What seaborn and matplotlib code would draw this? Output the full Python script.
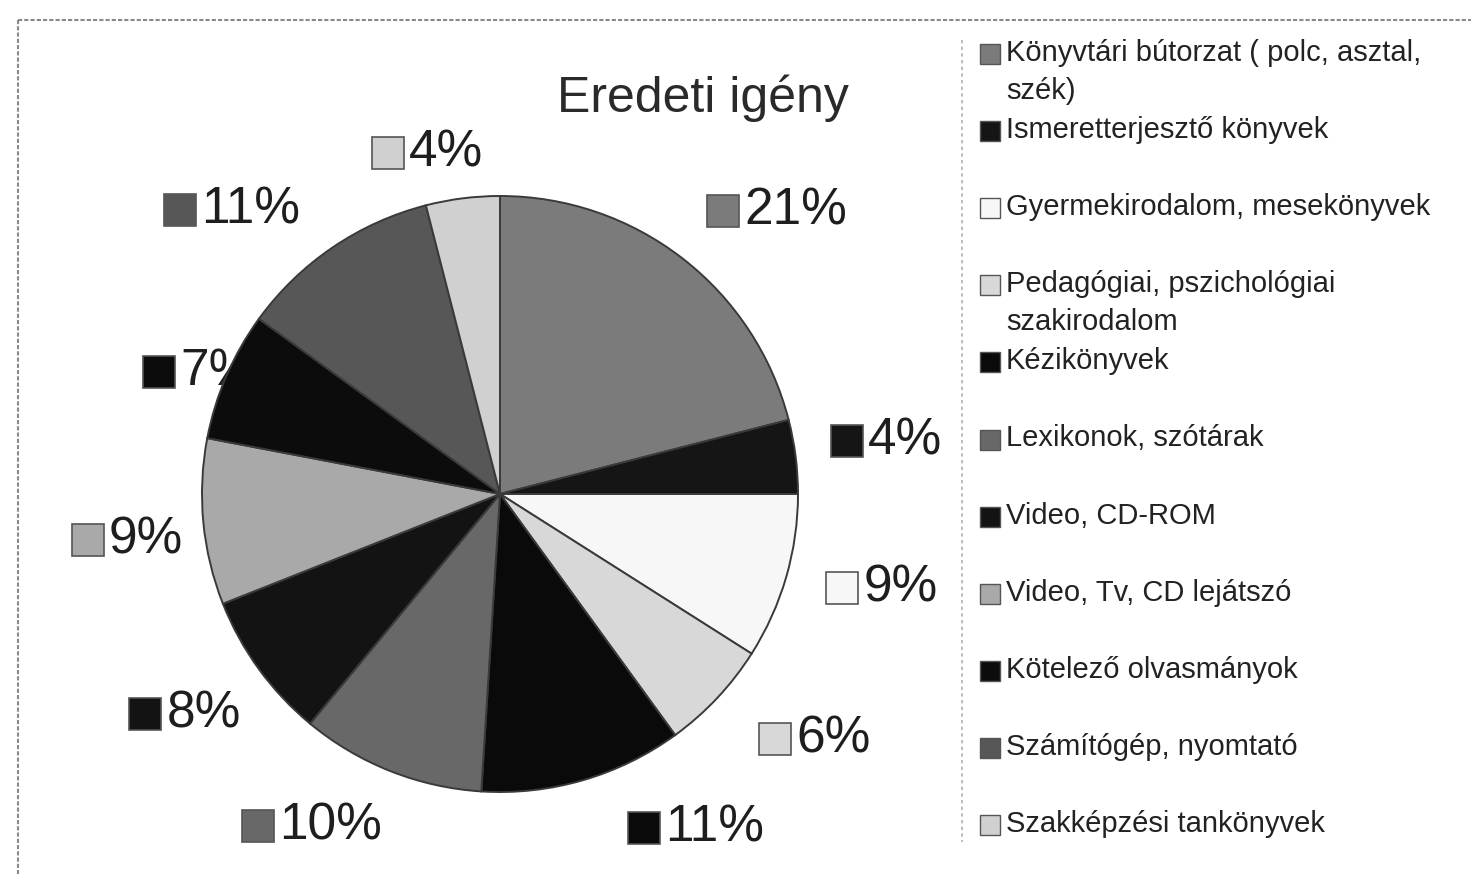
import numpy as np
import matplotlib
matplotlib.use("Agg")
import matplotlib.pyplot as plt
import seaborn as sns

# --- data (clockwise from 12 o'clock, same order as the legend) ---
categories = [
    "Könyvtári bútorzat ( polc, asztal,\nszék)",
    "Ismeretterjesztő könyvek",
    "Gyermekirodalom, mesekönyvek",
    "Pedagógiai, pszichológiai\nszakirodalom",
    "Kézikönyvek",
    "Lexikonok, szótárak",
    "Video, CD-ROM",
    "Video, Tv, CD lejátszó",
    "Kötelező olvasmányok",
    "Számítógép, nyomtató",
    "Szakképzési tankönyvek",
]
shares = [21, 4, 9, 6, 11, 10, 8, 9, 7, 11, 4]
title = "Eredeti igény"

# grey fills of the printed original
colors = ["#7b7b7b", "#151515", "#f7f7f7", "#d8d8d8", "#0a0a0a", "#686868",
          "#131313", "#a9a9a9", "#0c0c0c", "#575757", "#d0d0d0"]

# label placement tweaks (distance in radii, angle nudge in degrees)
label_r = [1.33, 1.31, 1.32, 1.34, 1.30, 1.28, 1.29, 1.26, 1.09, 1.31, 1.17]
label_nudge = [-6.6, 0.6, 2.3, 5.3, 14.2, -8.0, -1.0, 1.6, 1.3, 9.2, 4.8]

sns.set_style("white")
plt.rcParams["font.family"] = ["Liberation Sans", "DejaVu Sans"]

W, H = 1471, 874
fig = plt.figure(figsize=(W / 100, H / 100), dpi=100)
ax = fig.add_axes([0, 0, 1, 1])
ax.set_xlim(0, W)
ax.set_ylim(0, H)
ax.axis("off")

# pixel-space helpers (y measured from top)
def py(y):
    return H - y

cx, cy, R = 500, py(494), 298

wedges, _ = ax.pie(shares, colors=colors, startangle=90, counterclock=False,
                   center=(cx, cy), radius=R, frame=True,
                   wedgeprops=dict(edgecolor="#3a3a3a", linewidth=1.4))
for w in wedges:
    w.set_zorder(3)
ax.set_xlim(0, W)
ax.set_ylim(0, H)
ax.set_aspect("equal")
ax.axis("off")

# chart-area frame (dotted, as in the scan)
ax.plot([18, W], [py(20), py(20)], color="#8a8a8a", lw=1.5, ls=(0, (2, 1)), zorder=1)
ax.plot([18, 18], [py(20), 0], color="#8a8a8a", lw=1.5, ls=(0, (2, 1)), zorder=1)
ax.plot([962, 962], [py(40), py(842)], color="#b0b0b0", lw=1.2, ls=(0, (2, 2)), zorder=1)

ax.text(703, py(98), title, fontsize=36, ha="center", va="center", color="#2a2a2a")

# percentage labels with coloured squares
renderer = fig.canvas.get_renderer()
sq, gap = 32, 5
for w, val, col, r, nud in zip(wedges, shares, colors, label_r, label_nudge):
    mid = np.deg2rad((w.theta1 + w.theta2) / 2 + nud)
    ax_x = cx + r * R * np.cos(mid)
    ax_y = cy + r * R * np.sin(mid)
    t = ax.text(0, ax_y, f"{val}%", fontsize=37, ha="left", va="center",
                color="#1e1e1e", zorder=2)
    tw = t.get_window_extent(renderer=renderer).width
    left = ax_x - (sq + gap + tw) / 2
    t.set_x(left + sq + gap)
    ax.plot(left + sq / 2, ax_y, marker="s", ms=sq / 1.389, mfc=col,
            mec="#555555", mew=1.2, zorder=2)

# legend, drawn as fixed slots like the original
for i, (lab, col) in enumerate(zip(categories, colors)):
    y = py(54 + i * 77.1)
    ax.plot(990, y, marker="s", ms=14, mfc=col, mec="#555555", mew=1.0)
    ax.text(1006, y + 15, lab, fontsize=21, ha="left", va="top",
            color="#222222", linespacing=1.45)

fig.savefig("out.png", dpi=100)
